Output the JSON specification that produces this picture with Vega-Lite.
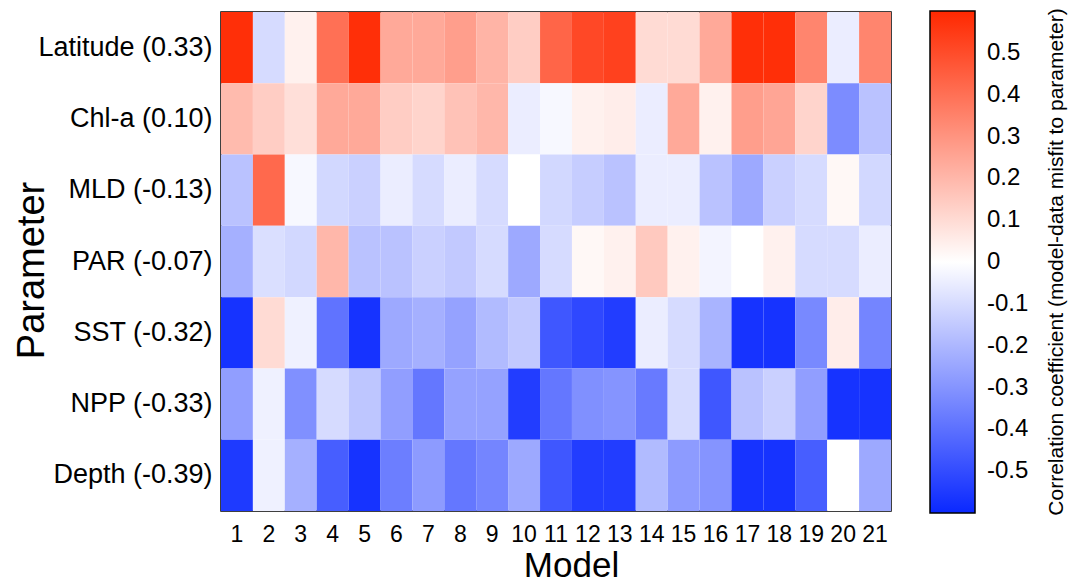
{
  "$schema": "https://vega.github.io/schema/vega-lite/v6.json",
  "autosize": {"type": "none"},
  "padding": {"left": 221, "top": 12, "right": 178, "bottom": 71},
  "width": 670,
  "height": 499,
  "background": "white",
  "config": {
    "font": "Liberation Sans",
    "view": {"stroke": "black", "strokeWidth": 1.5}
  },
  "datasets": {
    "cells": [
      {"model": 1, "param": "Latitude (0.33)", "r": 0.58},
      {"model": 2, "param": "Latitude (0.33)", "r": -0.1},
      {"model": 3, "param": "Latitude (0.33)", "r": 0.04},
      {"model": 4, "param": "Latitude (0.33)", "r": 0.4},
      {"model": 5, "param": "Latitude (0.33)", "r": 0.58},
      {"model": 6, "param": "Latitude (0.33)", "r": 0.24},
      {"model": 7, "param": "Latitude (0.33)", "r": 0.24},
      {"model": 8, "param": "Latitude (0.33)", "r": 0.27},
      {"model": 9, "param": "Latitude (0.33)", "r": 0.21},
      {"model": 10, "param": "Latitude (0.33)", "r": 0.14},
      {"model": 11, "param": "Latitude (0.33)", "r": 0.43},
      {"model": 12, "param": "Latitude (0.33)", "r": 0.51},
      {"model": 13, "param": "Latitude (0.33)", "r": 0.53},
      {"model": 14, "param": "Latitude (0.33)", "r": 0.1},
      {"model": 15, "param": "Latitude (0.33)", "r": 0.1},
      {"model": 16, "param": "Latitude (0.33)", "r": 0.24},
      {"model": 17, "param": "Latitude (0.33)", "r": 0.58},
      {"model": 18, "param": "Latitude (0.33)", "r": 0.58},
      {"model": 19, "param": "Latitude (0.33)", "r": 0.34},
      {"model": 20, "param": "Latitude (0.33)", "r": -0.05},
      {"model": 21, "param": "Latitude (0.33)", "r": 0.34},
      {"model": 1, "param": "Chl-a (0.10)", "r": 0.19},
      {"model": 2, "param": "Chl-a (0.10)", "r": 0.14},
      {"model": 3, "param": "Chl-a (0.10)", "r": 0.09},
      {"model": 4, "param": "Chl-a (0.10)", "r": 0.24},
      {"model": 5, "param": "Chl-a (0.10)", "r": 0.24},
      {"model": 6, "param": "Chl-a (0.10)", "r": 0.14},
      {"model": 7, "param": "Chl-a (0.10)", "r": 0.12},
      {"model": 8, "param": "Chl-a (0.10)", "r": 0.17},
      {"model": 9, "param": "Chl-a (0.10)", "r": 0.2},
      {"model": 10, "param": "Chl-a (0.10)", "r": -0.05},
      {"model": 11, "param": "Chl-a (0.10)", "r": -0.02},
      {"model": 12, "param": "Chl-a (0.10)", "r": 0.04},
      {"model": 13, "param": "Chl-a (0.10)", "r": 0.05},
      {"model": 14, "param": "Chl-a (0.10)", "r": -0.05},
      {"model": 15, "param": "Chl-a (0.10)", "r": 0.24},
      {"model": 16, "param": "Chl-a (0.10)", "r": 0.04},
      {"model": 17, "param": "Chl-a (0.10)", "r": 0.27},
      {"model": 18, "param": "Chl-a (0.10)", "r": 0.25},
      {"model": 19, "param": "Chl-a (0.10)", "r": 0.12},
      {"model": 20, "param": "Chl-a (0.10)", "r": -0.32},
      {"model": 21, "param": "Chl-a (0.10)", "r": -0.17},
      {"model": 1, "param": "MLD (-0.13)", "r": -0.17},
      {"model": 2, "param": "MLD (-0.13)", "r": 0.42},
      {"model": 3, "param": "MLD (-0.13)", "r": -0.02},
      {"model": 4, "param": "MLD (-0.13)", "r": -0.11},
      {"model": 5, "param": "MLD (-0.13)", "r": -0.13},
      {"model": 6, "param": "MLD (-0.13)", "r": -0.05},
      {"model": 7, "param": "MLD (-0.13)", "r": -0.1},
      {"model": 8, "param": "MLD (-0.13)", "r": -0.05},
      {"model": 9, "param": "MLD (-0.13)", "r": -0.1},
      {"model": 10, "param": "MLD (-0.13)", "r": 0},
      {"model": 11, "param": "MLD (-0.13)", "r": -0.11},
      {"model": 12, "param": "MLD (-0.13)", "r": -0.14},
      {"model": 13, "param": "MLD (-0.13)", "r": -0.17},
      {"model": 14, "param": "MLD (-0.13)", "r": -0.05},
      {"model": 15, "param": "MLD (-0.13)", "r": -0.05},
      {"model": 16, "param": "MLD (-0.13)", "r": -0.17},
      {"model": 17, "param": "MLD (-0.13)", "r": -0.24},
      {"model": 18, "param": "MLD (-0.13)", "r": -0.13},
      {"model": 19, "param": "MLD (-0.13)", "r": -0.1},
      {"model": 20, "param": "MLD (-0.13)", "r": 0.02},
      {"model": 21, "param": "MLD (-0.13)", "r": -0.11},
      {"model": 1, "param": "PAR (-0.07)", "r": -0.22},
      {"model": 2, "param": "PAR (-0.07)", "r": -0.09},
      {"model": 3, "param": "PAR (-0.07)", "r": -0.11},
      {"model": 4, "param": "PAR (-0.07)", "r": 0.2},
      {"model": 5, "param": "PAR (-0.07)", "r": -0.17},
      {"model": 6, "param": "PAR (-0.07)", "r": -0.17},
      {"model": 7, "param": "PAR (-0.07)", "r": -0.13},
      {"model": 8, "param": "PAR (-0.07)", "r": -0.15},
      {"model": 9, "param": "PAR (-0.07)", "r": -0.1},
      {"model": 10, "param": "PAR (-0.07)", "r": -0.24},
      {"model": 11, "param": "PAR (-0.07)", "r": -0.1},
      {"model": 12, "param": "PAR (-0.07)", "r": 0.02},
      {"model": 13, "param": "PAR (-0.07)", "r": 0.04},
      {"model": 14, "param": "PAR (-0.07)", "r": 0.15},
      {"model": 15, "param": "PAR (-0.07)", "r": 0.04},
      {"model": 16, "param": "PAR (-0.07)", "r": -0.03},
      {"model": 17, "param": "PAR (-0.07)", "r": 0},
      {"model": 18, "param": "PAR (-0.07)", "r": 0.04},
      {"model": 19, "param": "PAR (-0.07)", "r": -0.1},
      {"model": 20, "param": "PAR (-0.07)", "r": -0.1},
      {"model": 21, "param": "PAR (-0.07)", "r": -0.05},
      {"model": 1, "param": "SST (-0.32)", "r": -0.57},
      {"model": 2, "param": "SST (-0.32)", "r": 0.1},
      {"model": 3, "param": "SST (-0.32)", "r": -0.04},
      {"model": 4, "param": "SST (-0.32)", "r": -0.39},
      {"model": 5, "param": "SST (-0.32)", "r": -0.57},
      {"model": 6, "param": "SST (-0.32)", "r": -0.24},
      {"model": 7, "param": "SST (-0.32)", "r": -0.22},
      {"model": 8, "param": "SST (-0.32)", "r": -0.26},
      {"model": 9, "param": "SST (-0.32)", "r": -0.19},
      {"model": 10, "param": "SST (-0.32)", "r": -0.15},
      {"model": 11, "param": "SST (-0.32)", "r": -0.47},
      {"model": 12, "param": "SST (-0.32)", "r": -0.51},
      {"model": 13, "param": "SST (-0.32)", "r": -0.54},
      {"model": 14, "param": "SST (-0.32)", "r": -0.05},
      {"model": 15, "param": "SST (-0.32)", "r": -0.1},
      {"model": 16, "param": "SST (-0.32)", "r": -0.21},
      {"model": 17, "param": "SST (-0.32)", "r": -0.57},
      {"model": 18, "param": "SST (-0.32)", "r": -0.57},
      {"model": 19, "param": "SST (-0.32)", "r": -0.33},
      {"model": 20, "param": "SST (-0.32)", "r": 0.05},
      {"model": 21, "param": "SST (-0.32)", "r": -0.34},
      {"model": 1, "param": "NPP (-0.33)", "r": -0.27},
      {"model": 2, "param": "NPP (-0.33)", "r": -0.04},
      {"model": 3, "param": "NPP (-0.33)", "r": -0.31},
      {"model": 4, "param": "NPP (-0.33)", "r": -0.1},
      {"model": 5, "param": "NPP (-0.33)", "r": -0.16},
      {"model": 6, "param": "NPP (-0.33)", "r": -0.27},
      {"model": 7, "param": "NPP (-0.33)", "r": -0.38},
      {"model": 8, "param": "NPP (-0.33)", "r": -0.26},
      {"model": 9, "param": "NPP (-0.33)", "r": -0.26},
      {"model": 10, "param": "NPP (-0.33)", "r": -0.54},
      {"model": 11, "param": "NPP (-0.33)", "r": -0.38},
      {"model": 12, "param": "NPP (-0.33)", "r": -0.31},
      {"model": 13, "param": "NPP (-0.33)", "r": -0.3},
      {"model": 14, "param": "NPP (-0.33)", "r": -0.37},
      {"model": 15, "param": "NPP (-0.33)", "r": -0.1},
      {"model": 16, "param": "NPP (-0.33)", "r": -0.47},
      {"model": 17, "param": "NPP (-0.33)", "r": -0.17},
      {"model": 18, "param": "NPP (-0.33)", "r": -0.13},
      {"model": 19, "param": "NPP (-0.33)", "r": -0.27},
      {"model": 20, "param": "NPP (-0.33)", "r": -0.57},
      {"model": 21, "param": "NPP (-0.33)", "r": -0.57},
      {"model": 1, "param": "Depth (-0.39)", "r": -0.55},
      {"model": 2, "param": "Depth (-0.39)", "r": -0.04},
      {"model": 3, "param": "Depth (-0.39)", "r": -0.22},
      {"model": 4, "param": "Depth (-0.39)", "r": -0.45},
      {"model": 5, "param": "Depth (-0.39)", "r": -0.57},
      {"model": 6, "param": "Depth (-0.39)", "r": -0.36},
      {"model": 7, "param": "Depth (-0.39)", "r": -0.28},
      {"model": 8, "param": "Depth (-0.39)", "r": -0.38},
      {"model": 9, "param": "Depth (-0.39)", "r": -0.34},
      {"model": 10, "param": "Depth (-0.39)", "r": -0.24},
      {"model": 11, "param": "Depth (-0.39)", "r": -0.47},
      {"model": 12, "param": "Depth (-0.39)", "r": -0.54},
      {"model": 13, "param": "Depth (-0.39)", "r": -0.54},
      {"model": 14, "param": "Depth (-0.39)", "r": -0.19},
      {"model": 15, "param": "Depth (-0.39)", "r": -0.28},
      {"model": 16, "param": "Depth (-0.39)", "r": -0.3},
      {"model": 17, "param": "Depth (-0.39)", "r": -0.57},
      {"model": 18, "param": "Depth (-0.39)", "r": -0.57},
      {"model": 19, "param": "Depth (-0.39)", "r": -0.45},
      {"model": 20, "param": "Depth (-0.39)", "r": 0},
      {"model": 21, "param": "Depth (-0.39)", "r": -0.24}
    ]
  },
  "data": {"name": "cells"},
  "mark": {"type": "rect", "strokeWidth": 0},
  "encoding": {
    "x": {
      "field": "model",
      "type": "ordinal",
      "sort": "ascending",
      "scale": {"paddingInner": 0, "paddingOuter": 0},
      "axis": {
        "title": "Model",
        "labelAngle": 0,
        "labelFontSize": 23,
        "labelColor": "black",
        "labelPadding": 12,
        "ticks": false,
        "domain": false,
        "titleFontSize": 35,
        "titleFontWeight": "normal",
        "titleColor": "black",
        "titleX": 350,
        "titleY": 65,
        "titleBaseline": "alphabetic",
        "titleAlign": "center"
      }
    },
    "y": {
      "field": "param",
      "type": "nominal",
      "sort": null,
      "scale": {"paddingInner": 0, "paddingOuter": 0},
      "axis": {
        "title": "Parameter",
        "labelFontSize": 27,
        "labelColor": "black",
        "labelPadding": 9,
        "labelLimit": 300,
        "ticks": false,
        "domain": false,
        "titleFontSize": 38,
        "titleFontWeight": "normal",
        "titleColor": "black",
        "titleAngle": -90,
        "titleX": -189,
        "titleY": 258,
        "titleBaseline": "middle",
        "titleAlign": "center"
      }
    },
    "color": {
      "field": "r",
      "type": "quantitative",
      "scale": {
        "domain": [-0.6, 0, 0.6],
        "range": ["#0a28ff", "#ffffff", "#ff2800"],
        "interpolate": "rgb"
      },
      "legend": {
        "orient": "none",
        "legendX": 709,
        "legendY": -1,
        "direction": "vertical",
        "gradientLength": 502,
        "gradientThickness": 45,
        "gradientStrokeColor": "black",
        "gradientStrokeWidth": 1.5,
        "values": [-0.5, -0.4, -0.3, -0.2, -0.1, 0, 0.1, 0.2, 0.3, 0.4, 0.5],
        "labelExpr": "replace(format(datum.value, '.1~f'), '\u2212', '-')",
        "labelFontSize": 24,
        "labelColor": "black",
        "labelOffset": 12,
        "labelOverlap": false,
        "title": "Correlation coefficient (model-data misfit to parameter)",
        "titleOrient": "right",
        "titleFontSize": 21,
        "titleFontWeight": "normal",
        "titleColor": "black",
        "titleAnchor": "middle",
        "titlePadding": 39,
        "titleLimit": 600,
        "encode": {"title": {"update": {"angle": {"value": 270}}}}
      }
    }
  }
}
